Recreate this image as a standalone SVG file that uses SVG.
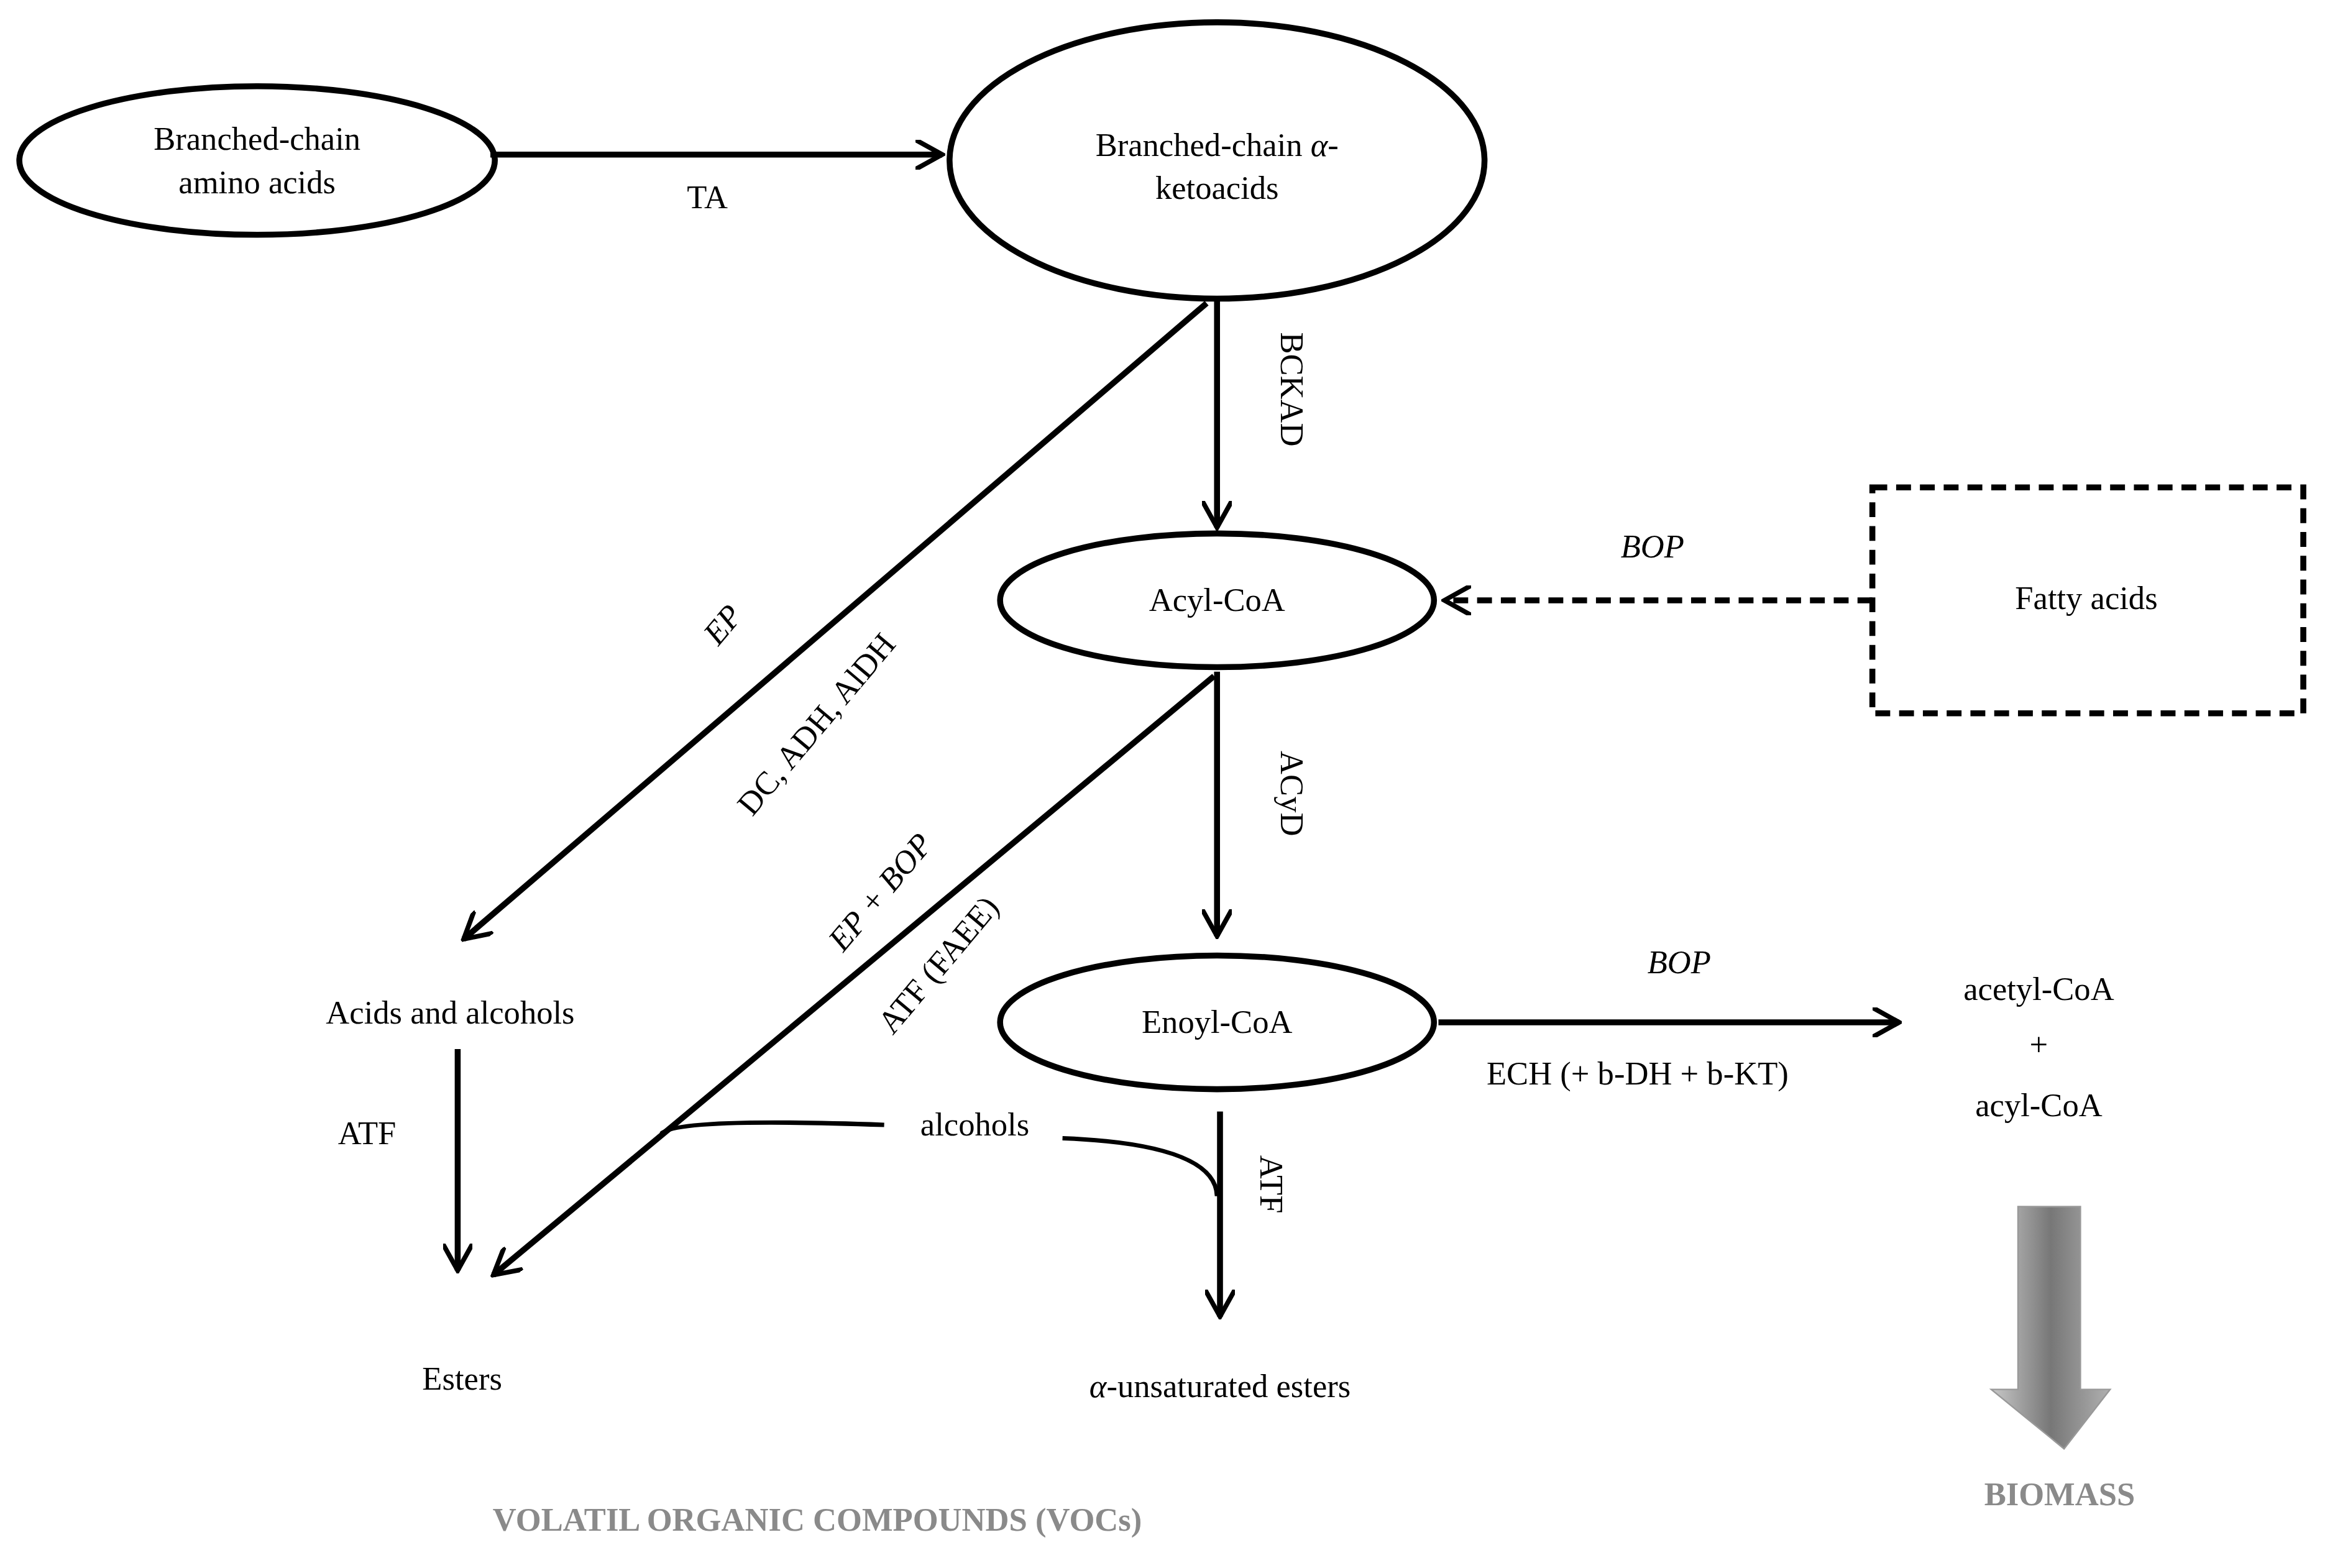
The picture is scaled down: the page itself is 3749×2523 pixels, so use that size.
<svg xmlns="http://www.w3.org/2000/svg" width="3749" height="2523" viewBox="0 0 3749 2523">
<style>
.n{fill:none;stroke:#000;stroke-width:4}
.c{fill:none;stroke:#000;stroke-width:4}
.d{stroke-dasharray:10 6}
text{font-family:"Liberation Serif",serif;font-size:22px;fill:#000;text-anchor:middle}
.i{font-style:italic}
.g{fill:#8a8a8a;font-weight:bold}
</style>
<defs>
<marker id="a" viewBox="0 0 10 10" refX="9" refY="5" markerWidth="5" markerHeight="5" orient="auto" markerUnits="strokeWidth">
<path d="M0,0 L9,5 L0,10" fill="none" stroke="#000" stroke-width="1.6"/>
</marker>
<linearGradient id="gr" x1="0" x2="1">
<stop offset="0" stop-color="#c8c8c8"/><stop offset="0.5" stop-color="#777"/><stop offset="1" stop-color="#b0b0b0"/>
</linearGradient>
</defs>
<rect width="3749" height="2523" fill="#fff"/>
<g transform="scale(2.391)">
<g id="bcaa"><ellipse class="n" cx="173" cy="108" rx="160" ry="50"/><text x="173" y="101">Branched-chain</text><text x="173" y="130">amino acids</text></g>
<g id="bcka"><ellipse class="n" cx="819" cy="108" rx="180" ry="93"/><text x="819" y="105">Branched-chain <tspan class="i">α</tspan>-</text><text x="819" y="134">ketoacids</text></g>
<g id="acyl"><ellipse class="n" cx="819" cy="404" rx="146" ry="45"/><text x="819" y="411">Acyl-CoA</text></g>
<g id="enoyl"><ellipse class="n" cx="819" cy="688" rx="146" ry="45"/><text x="819" y="695">Enoyl-CoA</text></g>
<g id="fatty"><rect class="n d" x="1260" y="328" width="290" height="152"/><text x="1404" y="410">Fatty acids</text></g>
<g id="acids"><text x="303" y="689">Acids and alcohols</text></g>
<g id="esters"><text x="311" y="935">Esters</text></g>
<g id="unsat"><text x="821" y="940"><tspan class="i">α</tspan>-unsaturated esters</text></g>
<g id="acetyl"><text x="1372" y="673">acetyl-CoA</text><text x="1372" y="710">+</text><text x="1372" y="751">acyl-CoA</text></g>
<g id="biomass"><path d="M1358,812 L1400,812 L1400,935 L1420,935 L1389,975 L1340,935 L1358,935 Z" fill="url(#gr)" stroke="#999" stroke-width="1"/><text class="g" x="1386" y="1013">BIOMASS</text></g>
<g id="vocs"><text class="g" x="550" y="1030">VOLATIL ORGANIC COMPOUNDS (VOCs)</text></g>
<g id="connectors">
<line class="c" x1="330" y1="104" x2="634" y2="104" marker-end="url(#a)"/>
<text x="476" y="140">TA</text>
<line class="c" x1="819" y1="201" x2="819" y2="355" marker-end="url(#a)"/>
<text transform="translate(862,262) rotate(90)">BCKAD</text>
<line class="c d" x1="1260" y1="404" x2="972" y2="404" marker-end="url(#a)"/>
<text class="i" x="1112" y="375">BOP</text>
<line class="c" x1="812" y1="204" x2="312" y2="632" marker-end="url(#a)"/>
<text class="i" transform="translate(492,425) rotate(-50)">EP</text>
<text transform="translate(555,492) rotate(-50)">DC, ADH, AlDH</text>
<line class="c" x1="819" y1="452" x2="819" y2="630" marker-end="url(#a)"/>
<text transform="translate(862,534) rotate(90)">ACyD</text>
<line class="c" x1="817" y1="455" x2="332" y2="858" marker-end="url(#a)"/>
<text class="i" transform="translate(598,605) rotate(-50)">EP + BOP</text>
<text transform="translate(637,654) rotate(-50)">ATF (FAEE)</text>
<line class="c" x1="308" y1="706" x2="308" y2="855" marker-end="url(#a)"/>
<text x="247" y="770">ATF</text>
<line class="c" x1="968" y1="688" x2="1278" y2="688" marker-end="url(#a)"/>
<text class="i" x="1130" y="655">BOP</text>
<text x="1102" y="730">ECH (+ b-DH + b-KT)</text>
<line class="c" x1="821" y1="748" x2="821" y2="886" marker-end="url(#a)"/>
<text transform="translate(848,797) rotate(90)">ATF</text>
<text x="656" y="764">alcohols</text>
<path class="c" style="stroke-width:3" d="M445,763 Q455,752 595,757"/>
<path class="c" style="stroke-width:3" d="M715,766 Q818,770 819,805"/>
</g>
</g>
</svg>
